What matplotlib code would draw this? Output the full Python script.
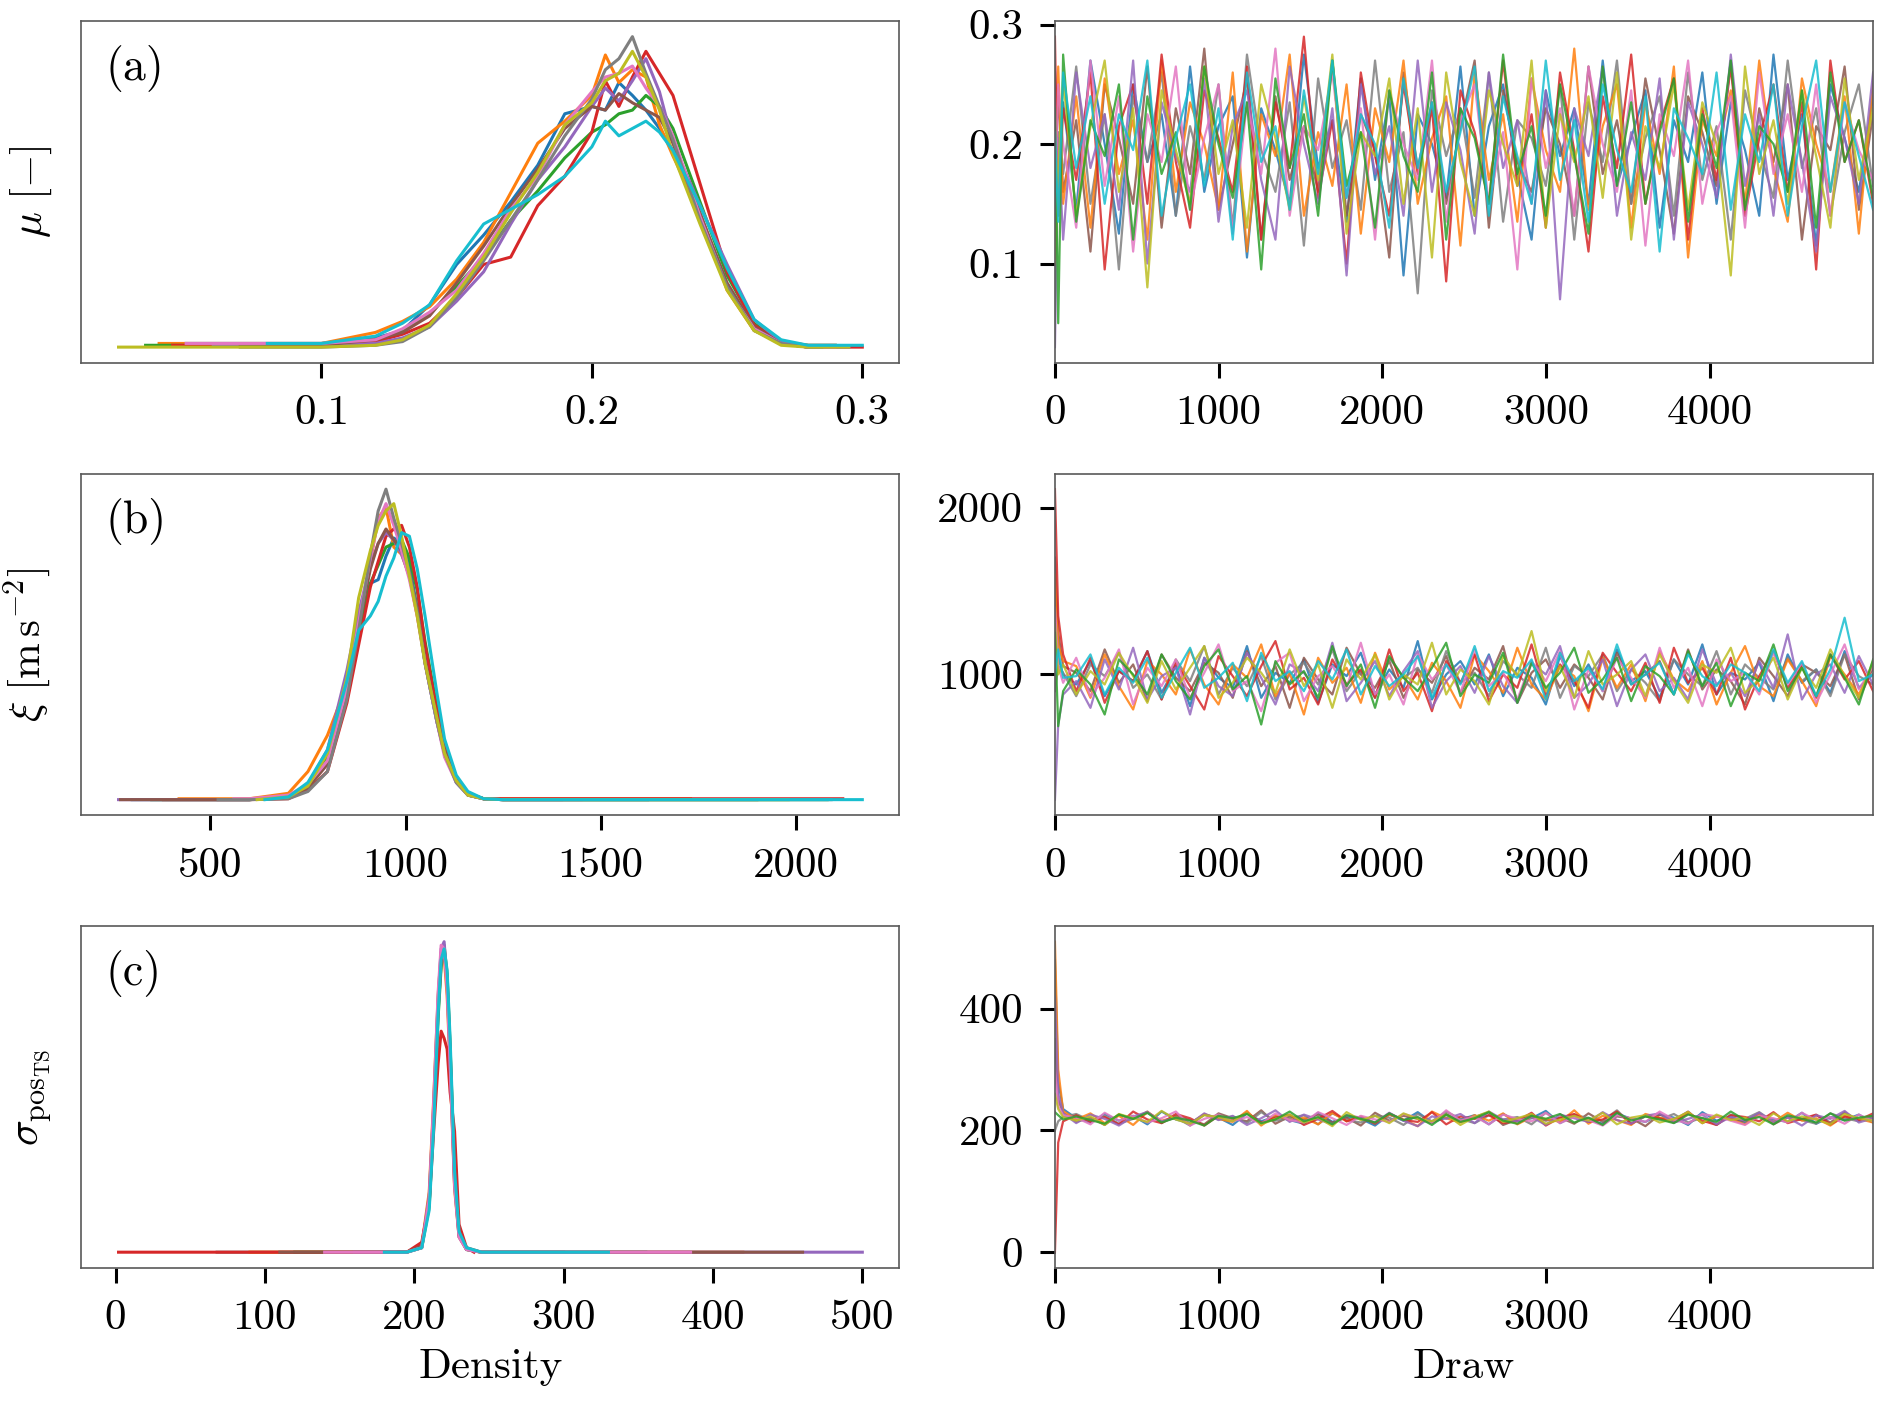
"""
Posterior trace plot: per-chain densities (left) and traces (right)
for mu, xi and sigma_posTS.
"""

import numpy as np
import matplotlib
matplotlib.use("Agg")
import matplotlib.pyplot as plt

plt.rcParams["font.family"] = ["cmr10", "DejaVu Serif"]
plt.rcParams["mathtext.fontset"] = "cm"
plt.rcParams["axes.formatter.use_mathtext"] = True
plt.rcParams["font.size"] = 15.5

# ── Densities (left column) ───────────────────────────────────────────────────
# core grid shared by all chains of a panel, plus each chain's own (lo, hi) tail
mu_grid = [0.10, 0.12, 0.13, 0.14, 0.15, 0.16, 0.17, 0.18, 0.19, 0.20, 0.205,
           0.21, 0.215, 0.22, 0.225, 0.23, 0.24, 0.25, 0.26, 0.27, 0.28]
mu_dens = [
    [0.3, 0.6, 1.0, 2.4, 4.6, 6.2, 8.0, 10.0, 12.8, 13.2, 13.0, 14.5, 13.8, 13.0, 12.0, 10.8, 7.0, 3.4, 1.2, 0.4, 0.2],
    [0.3, 0.9, 1.5, 2.3, 3.8, 5.8, 8.5, 11.2, 12.4, 13.8, 16.0, 14.5, 15.2, 14.8, 12.2, 10.5, 7.4, 3.2, 1.0, 0.4, 0.2],
    [0.2, 0.5, 1.0, 1.9, 3.4, 5.0, 7.0, 8.6, 10.4, 11.8, 12.2, 12.8, 13.0, 13.8, 13.2, 12.0, 8.0, 4.0, 1.4, 0.3, 0.1],
    [0.2, 0.4, 0.8, 1.4, 2.8, 4.6, 5.0, 7.8, 9.4, 11.8, 14.6, 13.2, 14.8, 16.2, 15.0, 13.8, 9.0, 4.2, 1.3, 0.3, 0.1],
    [0.2, 0.3, 0.6, 1.2, 2.6, 4.2, 6.8, 9.2, 11.0, 13.2, 14.2, 13.5, 14.6, 15.8, 14.0, 11.2, 7.8, 4.6, 1.6, 0.4, 0.1],
    [0.2, 0.5, 0.9, 1.8, 3.6, 5.6, 7.8, 9.8, 12.0, 13.2, 13.0, 13.9, 13.4, 13.0, 12.6, 11.2, 7.4, 3.6, 1.2, 0.3, 0.1],
    [0.3, 0.5, 1.1, 2.0, 3.2, 5.2, 7.6, 9.4, 12.2, 14.0, 14.8, 15.0, 15.4, 14.2, 13.2, 11.6, 7.2, 3.3, 1.1, 0.3, 0.1],
    [0.1, 0.2, 0.4, 1.2, 2.8, 4.8, 7.0, 9.2, 11.6, 13.6, 15.2, 15.8, 17.0, 15.0, 13.2, 11.4, 7.0, 3.4, 1.0, 0.3, 0.1],
    [0.1, 0.2, 0.5, 1.3, 3.0, 5.0, 7.4, 9.6, 12.2, 13.4, 14.6, 15.0, 16.2, 14.8, 13.0, 10.6, 6.8, 3.2, 1.0, 0.2, 0.1],
    [0.3, 0.7, 1.4, 2.4, 4.8, 6.8, 7.6, 8.4, 9.4, 11.0, 12.4, 11.6, 12.0, 12.4, 11.8, 10.8, 7.8, 4.4, 1.6, 0.5, 0.2],
]
mu_tails = [(0.05, 0.29), (0.04, 0.29), (0.035, 0.285), (0.045, 0.30), (0.06, 0.295),
            (0.07, 0.29), (0.05, 0.29), (0.07, 0.285), (0.025, 0.295), (0.08, 0.30)]

xi_grid = [600, 700, 750, 800, 850, 880, 910, 930, 950, 970,
           990, 1010, 1030, 1050, 1080, 1100, 1130, 1160, 1200, 1250]
xi_dens = [
    [0.05, 0.2, 0.9, 2.4, 6.8, 9.8, 12.0, 12.2, 13.5, 14.5, 14.2, 13.0, 10.6, 7.6, 4.4, 2.6, 1.0, 0.3, 0.1, 0.05],
    [0.1, 0.4, 1.6, 3.6, 6.4, 9.0, 13.2, 15.6, 16.2, 14.0, 13.6, 12.4, 10.2, 7.8, 4.8, 2.8, 1.2, 0.4, 0.1, 0.1],
    [0.05, 0.2, 0.8, 2.4, 6.4, 9.2, 12.0, 13.0, 14.0, 14.2, 14.4, 13.4, 11.6, 8.8, 5.2, 3.0, 1.3, 0.4, 0.1, 0.05],
    [0.05, 0.1, 0.6, 1.6, 5.4, 8.6, 11.8, 13.2, 14.6, 15.0, 15.2, 14.0, 11.8, 8.6, 5.0, 3.0, 1.3, 0.4, 0.1, 0.1],
    [0.05, 0.2, 0.9, 2.8, 7.2, 10.4, 13.0, 14.2, 14.8, 14.4, 13.6, 12.4, 10.4, 7.6, 4.4, 2.6, 1.1, 0.3, 0.1, 0.05],
    [0.05, 0.2, 0.7, 2.0, 6.0, 9.6, 12.8, 14.2, 15.0, 14.4, 13.8, 12.6, 10.6, 7.8, 4.6, 2.8, 1.1, 0.3, 0.1, 0.05],
    [0.1, 0.3, 0.9, 2.2, 6.2, 9.8, 13.4, 15.4, 16.4, 15.2, 13.8, 12.2, 10.2, 7.6, 4.4, 2.4, 1.0, 0.3, 0.1, 0.05],
    [0.05, 0.1, 0.5, 1.6, 5.6, 9.4, 13.6, 16.0, 17.2, 15.6, 14.2, 12.6, 10.4, 7.6, 4.4, 2.6, 1.0, 0.3, 0.1, 0.05],
    [0.05, 0.2, 0.8, 2.6, 6.8, 11.2, 13.8, 15.2, 16.0, 16.4, 14.6, 12.4, 10.2, 7.6, 4.6, 2.6, 1.1, 0.3, 0.1, 0.05],
    [0.05, 0.2, 1.0, 2.8, 6.6, 9.4, 10.2, 11.0, 12.4, 13.4, 14.8, 14.6, 12.8, 10.2, 6.0, 3.4, 1.4, 0.5, 0.1, 0.05],
]
xi_tails = [(300, 1620), (420, 1730), (350, 2080), (380, 2120), (265, 1400),
            (270, 1900), (560, 1450), (520, 2090), (620, 1980), (640, 2170)]

sig_grid = [195, 205, 210, 213, 216, 218, 220, 222, 224, 227, 230, 235, 245]
sig_dens = [
    [0.05, 0.3, 3.0, 8.0, 14.0, 16.5, 17.0, 15.0, 11.0, 4.0, 1.0, 0.2, 0.05],
    [0.05, 0.4, 3.4, 8.6, 14.4, 16.8, 16.6, 14.4, 10.4, 3.6, 0.9, 0.2, 0.05],
    [0.05, 0.3, 2.6, 7.4, 13.2, 16.0, 17.2, 15.6, 11.6, 4.4, 1.1, 0.2, 0.05],
    [0.05, 0.6, 2.8, 6.8, 10.6, 12.4, 12.0, 11.4, 9.0, 6.8, 1.6, 0.3, 0.05],
    [0.05, 0.3, 3.2, 8.2, 14.2, 17.0, 17.4, 15.2, 10.8, 3.8, 0.9, 0.2, 0.05],
    [0.05, 0.4, 2.8, 7.6, 13.6, 16.2, 16.8, 15.4, 11.4, 4.2, 1.0, 0.3, 0.05],
    [0.05, 0.3, 3.0, 8.4, 14.6, 17.2, 17.0, 14.8, 10.6, 3.8, 0.9, 0.2, 0.05],
    [0.05, 0.3, 2.4, 7.0, 13.4, 16.4, 17.0, 15.8, 12.0, 4.6, 1.2, 0.3, 0.05],
]
sig_tails = [(68, 300), (90, 420), (120, 355), (2, 240), (160, 500),
             (110, 460), (140, 385), (180, 330)]
dens_colors = ["C0", "C1", "C2", "C3", "C4", "C5", "C6", "C7", "C8", "C9"]
sig_colors = ["C7", "C1", "C2", "C3", "C4", "C5", "C6", "C9"]

# ── Traces (right column) ─────────────────────────────────────────────────────
draws = np.r_[0, 20, 50, np.linspace(130, 4999, 57)]
trace_colors = ["C0", "C5", "C7", "C1", "C3", "C4", "C6", "C8", "C2", "C9"]

mu_trace_milli = [
    [260, 170, 235, 145, 270, 200, 125, 250, 185, 225, 140, 265, 160, 215, 240, 105, 230, 195, 150, 275, 180, 220, 135, 255, 170, 240, 90, 225, 200, 155, 265, 140, 215, 250, 175, 120, 245, 190, 230, 150, 270, 165, 205, 245, 130, 220, 185, 260, 150, 235, 195, 140, 275, 170, 225, 115, 250, 205, 160, 240],
    [190, 240, 160, 220, 110, 250, 205, 150, 265, 130, 230, 175, 280, 145, 200, 255, 120, 240, 170, 215, 160, 270, 140, 225, 195, 105, 260, 180, 235, 150, 215, 270, 130, 245, 185, 160, 230, 200, 140, 265, 175, 220, 150, 255, 195, 125, 240, 210, 165, 270, 140, 230, 185, 250, 120, 215, 195, 265, 145, 225],
    [120, 210, 175, 265, 150, 225, 95, 240, 185, 260, 140, 215, 170, 250, 130, 275, 195, 160, 235, 115, 255, 180, 220, 145, 270, 160, 210, 75, 245, 190, 230, 155, 260, 135, 220, 205, 165, 250, 120, 235, 185, 270, 150, 205, 240, 140, 260, 170, 215, 120, 245, 195, 155, 270, 180, 230, 140, 210, 250, 165],
    [180, 265, 150, 240, 130, 255, 175, 220, 120, 270, 160, 235, 200, 145, 260, 110, 225, 190, 275, 140, 210, 165, 250, 125, 230, 185, 270, 150, 205, 240, 115, 260, 170, 225, 135, 255, 195, 160, 280, 145, 215, 250, 130, 235, 175, 265, 105, 220, 190, 245, 150, 270, 180, 135, 255, 200, 160, 240, 125, 250],
    [290, 140, 230, 170, 260, 95, 215, 250, 150, 275, 185, 130, 245, 205, 160, 265, 120, 235, 180, 290, 155, 220, 100, 260, 190, 140, 250, 175, 230, 85, 245, 210, 150, 270, 165, 225, 130, 260, 195, 110, 240, 180, 275, 150, 215, 255, 120, 230, 170, 265, 140, 205, 250, 160, 235, 95, 270, 185, 220, 150],
    [30, 205, 120, 260, 180, 225, 145, 270, 100, 235, 190, 160, 255, 135, 215, 245, 170, 120, 265, 200, 150, 230, 90, 250, 175, 215, 140, 270, 160, 235, 195, 125, 260, 180, 220, 150, 245, 70, 230, 190, 265, 140, 210, 170, 255, 120, 235, 200, 155, 275, 165, 225, 140, 250, 185, 110, 240, 205, 150, 260],
    [150, 250, 200, 130, 270, 165, 240, 110, 225, 185, 265, 145, 205, 250, 125, 235, 175, 280, 140, 215, 195, 260, 155, 230, 120, 245, 200, 170, 270, 135, 220, 250, 150, 210, 95, 255, 180, 230, 140, 265, 200, 160, 245, 115, 225, 190, 270, 150, 210, 240, 130, 260, 175, 225, 160, 250, 140, 235, 195, 170],
    [100, 180, 255, 140, 215, 270, 160, 230, 80, 245, 195, 150, 265, 175, 220, 130, 250, 205, 145, 240, 170, 275, 125, 210, 190, 255, 150, 230, 105, 260, 185, 140, 245, 200, 165, 270, 130, 225, 185, 240, 155, 260, 120, 215, 180, 250, 145, 235, 200, 90, 265, 175, 220, 150, 245, 190, 130, 255, 170, 230],
    [230, 50, 275, 135, 220, 190, 250, 120, 240, 175, 210, 145, 265, 200, 155, 235, 95, 255, 180, 225, 140, 270, 165, 210, 130, 245, 190, 160, 260, 120, 230, 205, 150, 275, 175, 215, 140, 250, 190, 125, 265, 165, 235, 150, 210, 255, 135, 225, 180, 270, 145, 215, 200, 160, 245, 130, 260, 185, 220, 155],
    [210, 135, 260, 180, 240, 150, 225, 195, 270, 140, 205, 250, 165, 230, 120, 260, 185, 215, 145, 245, 175, 270, 155, 225, 200, 130, 255, 180, 235, 160, 210, 265, 140, 240, 190, 150, 270, 170, 220, 135, 250, 195, 160, 240, 110, 230, 205, 175, 260, 145, 225, 185, 250, 140, 215, 270, 160, 235, 190, 145],
]

xi_trace = [
    [1500, 1100, 1000, 940, 1080, 870, 1020, 960, 1140, 890, 1050, 810, 1100, 980, 920, 1170, 860, 1010, 950, 1090, 830, 1060, 990, 1130, 880, 1030, 920, 1200, 850, 1000, 1080, 940, 1120, 870, 1040, 980, 820, 1110, 930, 1060, 900, 1150, 960, 1020, 860, 1090, 940, 1180, 880, 1010, 970, 1070, 840, 1120, 950, 1030, 890, 1140, 920, 1000],
    [1700, 1250, 1050, 1010, 900, 1150, 950, 1060, 840, 1120, 980, 900, 1070, 1010, 860, 1140, 930, 1050, 800, 1100, 970, 880, 1160, 1000, 920, 1080, 860, 1030, 950, 1110, 890, 1040, 970, 1170, 830, 1010, 1090, 920, 1060, 980, 850, 1130, 940, 1000, 1080, 880, 1150, 910, 1030, 960, 820, 1100, 990, 870, 1060, 1010, 930, 1120, 850, 1040],
    [900, 1050, 1010, 870, 1060, 990, 1130, 920, 1000, 850, 1090, 960, 1170, 880, 1040, 930, 1110, 850, 1000, 1070, 940, 1150, 900, 1020, 860, 1100, 980, 1040, 890, 1140, 950, 1010, 870, 1080, 1000, 920, 1160, 860, 1050, 990, 1120, 900, 1030, 950, 840, 1090, 1000, 930, 1140, 880, 1060, 980, 910, 1100, 960, 1030, 870, 1120, 990, 940],
    [1600, 1180, 1080, 1050, 860, 1120, 930, 790, 1080, 1000, 880, 1150, 940, 820, 1060, 980, 1180, 870, 1010, 760, 1100, 950, 1040, 830, 1130, 910, 990, 850, 1070, 960, 800, 1120, 1020, 890, 1160, 940, 850, 1050, 990, 780, 1100, 920, 1060, 840, 1140, 970, 900, 1080, 820, 1010, 1170, 930, 870, 1090, 960, 810, 1110, 1000, 880, 1060],
    [2110, 1350, 1120, 900, 1100, 830, 1020, 960, 1140, 850, 1070, 930, 790, 1110, 990, 870, 1050, 1200, 910, 980, 820, 1090, 940, 1030, 860, 1150, 900, 1010, 780, 1080, 950, 1120, 840, 1000, 920, 1180, 870, 1060, 960, 800, 1130, 1010, 900, 1070, 830, 1160, 950, 1040, 880, 1100, 790, 990, 1140, 920, 1050, 860, 1120, 970, 1080, 900],
    [250, 700, 880, 960, 800, 1090, 910, 1160, 850, 990, 1040, 760, 1100, 930, 870, 1130, 980, 820, 1060, 1010, 900, 1190, 840, 950, 1080, 870, 1020, 1140, 800, 960, 1050, 890, 1110, 930, 830, 1070, 1000, 1170, 860, 940, 1090, 810, 1030, 1120, 900, 980, 850, 1150, 940, 1010, 870, 1080, 920, 1240, 850, 1000, 1060, 890, 1110, 940],
    [1400, 1050, 950, 1100, 870, 980, 1150, 820, 1040, 930, 1090, 860, 1010, 1180, 900, 960, 780, 1070, 1130, 840, 990, 1050, 920, 1190, 880, 1000, 820, 1120, 970, 1060, 890, 1150, 930, 1010, 850, 1080, 960, 1140, 790, 1030, 900, 1100, 980, 860, 1160, 920, 1040, 810, 1090, 960, 1010, 880, 1130, 940, 1070, 830, 1000, 1180, 910, 1050],
    [1300, 1000, 1060, 880, 1020, 940, 1130, 990, 830, 1080, 910, 1040, 1170, 860, 950, 1100, 1010, 890, 1150, 930, 1060, 800, 1090, 970, 1120, 850, 1000, 940, 1190, 880, 1030, 960, 820, 1110, 990, 1260, 900, 1050, 860, 1140, 940, 1000, 1080, 870, 1120, 960, 830, 1060, 1010, 1160, 890, 970, 1100, 850, 1040, 920, 1150, 990, 860, 1080],
    [1250, 690, 900, 1030, 940, 760, 1090, 1000, 880, 1120, 960, 850, 1050, 1150, 910, 990, 700, 1080, 940, 1020, 860, 1170, 930, 1060, 800, 1110, 980, 900, 1040, 1190, 870, 1000, 950, 1130, 830, 1070, 920, 1010, 1160, 890, 970, 1100, 840, 1050, 990, 880, 1140, 930, 1070, 810, 1010, 960, 1180, 900, 1040, 870, 1120, 980, 820, 1090],
    [1000, 1150, 980, 990, 1120, 880, 1040, 950, 1100, 860, 1010, 1160, 920, 980, 1070, 840, 1130, 960, 1020, 900, 1080, 970, 1150, 880, 1050, 930, 1000, 1110, 860, 1060, 940, 1170, 900, 1020, 980, 1090, 850, 1130, 960, 1040, 910, 1180, 940, 1000, 1070, 880, 1120, 990, 930, 1060, 1010, 900, 1150, 950, 1080, 870, 1030, 1340, 960, 1000],
]

sig_trace = [
    [480, 280, 235, 220, 213, 227, 216, 224, 210, 231, 218, 212, 226, 221, 209, 228, 215, 223, 217, 211, 229, 214, 222, 219, 208, 226, 216, 230, 213, 221, 218, 225, 210, 227, 215, 220, 232, 212, 224, 217, 211, 228, 219, 214, 226, 221, 209, 230, 216, 223, 212, 225, 218, 214, 229, 211, 222, 217, 226, 213],
    [350, 250, 229, 214, 221, 209, 226, 219, 231, 212, 224, 217, 210, 228, 220, 215, 233, 211, 223, 218, 226, 213, 221, 208, 229, 216, 224, 219, 212, 227, 214, 222, 230, 209, 218, 225, 216, 221, 211, 228, 214, 223, 220, 207, 226, 217, 231, 212, 224, 219, 215, 228, 210, 222, 218, 225, 213, 230, 216, 221],
    [200, 215, 222, 227, 216, 224, 211, 219, 229, 214, 221, 208, 226, 218, 223, 212, 230, 216, 220, 225, 210, 228, 217, 213, 224, 221, 209, 227, 215, 231, 219, 212, 225, 218, 222, 210, 229, 214, 226, 220, 216, 233, 211, 223, 218, 227, 213, 221, 209, 226, 219, 230, 214, 222, 217, 211, 228, 220, 215, 224],
    [510, 300, 232, 218, 228, 212, 224, 209, 230, 216, 222, 211, 227, 219, 214, 232, 208, 225, 217, 221, 210, 229, 215, 223, 212, 226, 218, 207, 231, 220, 213, 225, 216, 228, 210, 222, 219, 214, 233, 211, 224, 217, 209, 227, 221, 215, 230, 212, 223, 218, 210, 226, 214, 229, 216, 220, 208, 224, 219, 213],
    [0, 180, 215, 225, 214, 222, 210, 231, 218, 212, 227, 220, 208, 224, 216, 229, 213, 221, 226, 209, 219, 232, 215, 222, 211, 228, 217, 214, 230, 210, 223, 219, 225, 212, 216, 229, 208, 221, 227, 214, 218, 231, 211, 224, 220, 213, 228, 216, 209, 225, 222, 215, 230, 212, 219, 226, 210, 223, 217, 228],
    [420, 260, 228, 212, 226, 219, 208, 223, 230, 215, 221, 211, 228, 217, 224, 209, 220, 233, 214, 226, 218, 210, 225, 221, 213, 229, 216, 207, 223, 219, 227, 212, 231, 218, 215, 222, 209, 226, 220, 214, 230, 217, 211, 224, 228, 213, 219, 226, 210, 222, 216, 229, 214, 221, 208, 225, 219, 232, 213, 220],
    [300, 240, 225, 221, 210, 229, 216, 224, 213, 220, 231, 208, 219, 226, 215, 222, 211, 228, 217, 213, 230, 220, 209, 224, 218, 214, 227, 221, 212, 233, 216, 223, 210, 226, 219, 215, 229, 212, 222, 217, 208, 225, 220, 214, 231, 218, 211, 227, 223, 216, 209, 224, 220, 213, 229, 217, 222, 211, 226, 215],
    [260, 235, 222, 216, 223, 209, 227, 220, 214, 232, 218, 211, 225, 222, 215, 229, 210, 219, 226, 213, 221, 207, 230, 217, 224, 212, 228, 219, 215, 226, 209, 222, 231, 214, 220, 227, 211, 218, 224, 216, 229, 210, 221, 225, 213, 219, 230, 212, 226, 217, 221, 209, 228, 215, 223, 218, 210, 227, 220, 216],
    [230, 225, 218, 223, 217, 211, 226, 219, 229, 213, 221, 216, 208, 224, 220, 227, 212, 218, 231, 215, 222, 210, 225, 219, 213, 228, 217, 222, 209, 226, 214, 220, 230, 216, 211, 224, 219, 227, 213, 221, 209, 229, 216, 223, 218, 212, 226, 220, 214, 231, 217, 222, 210, 225, 219, 213, 228, 216, 221, 224],
]

# ── Figure ────────────────────────────────────────────────────────────────────
fig, axes = plt.subplots(3, 2, figsize=(9.46, 7.035), dpi=200)
fig.subplots_adjust(left=0.043, right=0.99, top=0.985, bottom=0.099,
                    wspace=0.19, hspace=0.325)

panels = [
    ("(a)", r"$\mu\ [-]$", mu_grid, mu_dens, mu_tails, dens_colors,
     np.array(mu_trace_milli) / 1000.0,
     [0.1, 0.2, 0.3], ["0.1", "0.2", "0.3"],
     [0.1, 0.2, 0.3], ["0.1", "0.2", "0.3"]),
    ("(b)", r"$\xi\ [\mathrm{m\,s^{-2}}]$", xi_grid, xi_dens, xi_tails, dens_colors,
     np.array(xi_trace),
     [500, 1000, 1500, 2000], ["500", "1000", "1500", "2000"],
     [1000, 2000], ["1000", "2000"]),
    ("(c)", r"$\sigma_{\mathrm{pos}_{\mathrm{TS}}}$", sig_grid, sig_dens, sig_tails, sig_colors,
     np.array(sig_trace),
     [0, 100, 200, 300, 400, 500], ["0", "100", "200", "300", "400", "500"],
     [0, 200, 400], ["0", "200", "400"]),
]

for row, (tag, ylab, grid, dens, tails, dcols, trace,
          dticks, dlabels, tticks, tlabels) in enumerate(panels):
    axd, axt = axes[row]

    # density per chain: tail at lo, shared core grid, tail at hi
    for k, (curve, (lo, hi)) in enumerate(zip(dens, tails)):
        xs = [lo] + [g for g in grid if lo < g < hi] + [hi]
        ys = [min(curve[0], 0.3)] + [c for g, c in zip(grid, curve) if lo < g < hi] + [min(curve[-1], 0.3)]
        axd.plot(xs, ys, color=dcols[k % len(dcols)], lw=1.1)
    axd.set_yticks([])
    axd.set_xticks(dticks, dlabels)
    axd.set_ylabel(ylab, labelpad=10)
    axd.text(0.03, 0.93, tag, transform=axd.transAxes, ha="left", va="top",
             fontsize=16.5)

    for k, chain in enumerate(trace):
        axt.plot(draws, chain, color=trace_colors[k % len(trace_colors)],
                 lw=0.8, alpha=0.85)
    axt.set_xlim(0, 4999)
    axt.set_xticks([0, 1000, 2000, 3000, 4000], ["0", "1000", "2000", "3000", "4000"])
    axt.set_yticks(tticks, tlabels)

    for ax in (axd, axt):
        ax.tick_params(direction="out", length=5.5, width=1.1, pad=6,
                       labelsize=15.5)
        for sp in ax.spines.values():
            sp.set_linewidth(0.6)
            sp.set_edgecolor("0.35")

axes[2, 0].set_xlabel("Density")
axes[2, 1].set_xlabel("Draw")

fig.savefig("out.png", dpi=200)
